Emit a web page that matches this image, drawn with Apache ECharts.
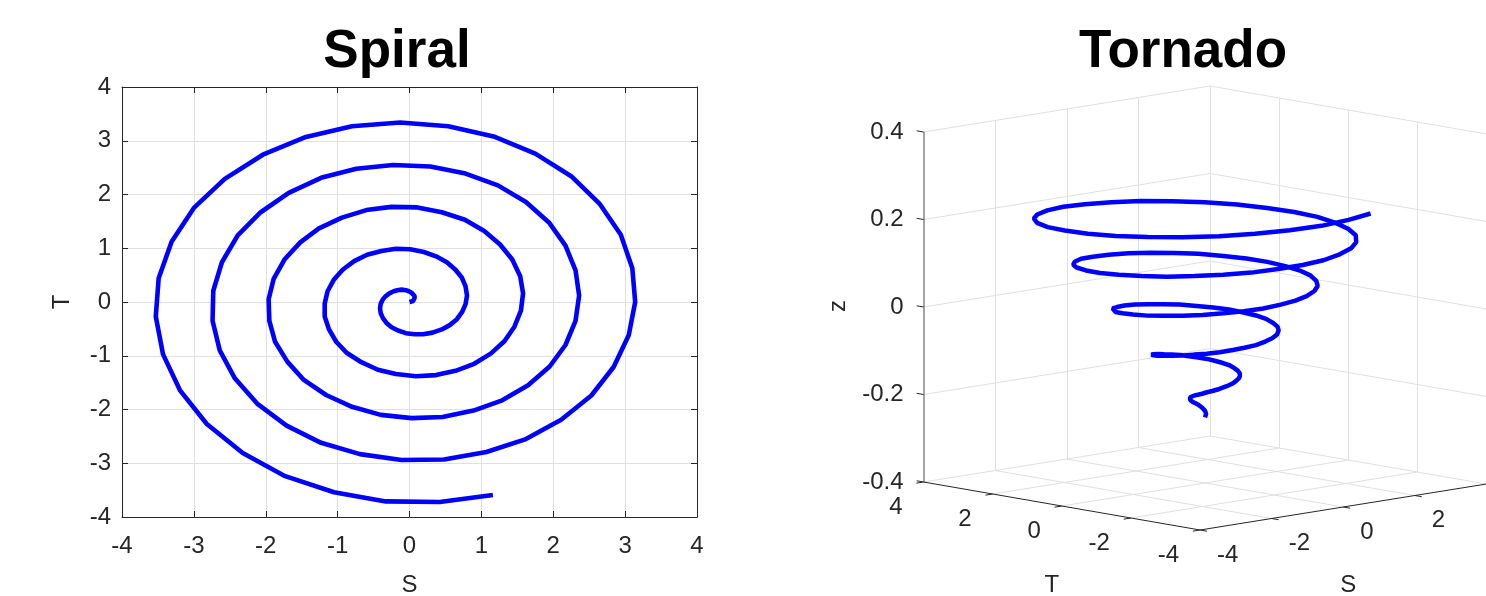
<!DOCTYPE html>
<html>
<head>
<meta charset="utf-8">
<title>Spiral / Tornado</title>
<script src="https://cdn.jsdelivr.net/npm/echarts@6/dist/echarts.min.js"></script>
<style>
  html, body { margin: 0; padding: 0; background: #fff; }
  #chart { width: 1486px; height: 596px; }
</style>
</head>
<body>
<div id="chart"></div>
<script>
// spiral samples (S, T), plus height z for the tornado
const S = [
  0, 0.02, 0.05, 0.06, 0.07, 0.07, 0.05, 0.03, -0.01, -0.05,
  -0.11, -0.17, -0.22, -0.28, -0.33, -0.37, -0.40, -0.41, -0.40, -0.37,
  -0.32, -0.25, -0.16, -0.05, 0.07, 0.19, 0.32, 0.45, 0.56, 0.66,
  0.73, 0.78, 0.80, 0.78, 0.73, 0.64, 0.52, 0.37, 0.20, 0.01,
  -0.19, -0.39, -0.59, -0.77, -0.93, -1.05, -1.14, -1.18, -1.18, -1.12,
  -1.02, -0.87, -0.67, -0.44, -0.19, 0.09, 0.37, 0.64, 0.90, 1.13,
  1.32, 1.46, 1.55, 1.58, 1.54, 1.43, 1.26, 1.04, 0.77, 0.45,
  0.11, -0.25, -0.60, -0.94, -1.26, -1.52, -1.74, -1.89, -1.96, -1.95,
  -1.87, -1.70, -1.47, -1.16, -0.80, -0.40, 0.03, 0.46, 0.89, 1.29,
  1.65, 1.95, 2.17, 2.31, 2.36, 2.31, 2.17, 1.94, 1.62, 1.23,
  0.78, 0.29, -0.23, -0.74, -1.23, -1.68, -2.07, -2.39, -2.61, -2.73,
  -2.74, -2.64, -2.43, -2.12, -1.71, -1.23, -0.69, -0.11, 0.48, 1.07,
  1.62, 2.11, 2.53, 2.84, 3.05, 3.14, 3.10, 2.94, 2.65, 2.25,
  1.75, 1.17, 0.54, -0.13, -0.80, -1.44, -2.04, -2.57, -3.00, -3.31,
  -3.49, -3.53, -3.43, -3.19, -2.82, -2.32, -1.73, -1.05, -0.33, 0.42,
  1.16
];
const T = [
  0, 0.01, 0.02, 0.04, 0.07, 0.11, 0.14, 0.17, 0.20, 0.22,
  0.23, 0.22, 0.20, 0.16, 0.11, 0.05, -0.03, -0.12, -0.21, -0.30,
  -0.39, -0.47, -0.53, -0.58, -0.60, -0.60, -0.57, -0.51, -0.43, -0.32,
  -0.19, -0.04, 0.12, 0.29, 0.45, 0.60, 0.74, 0.85, 0.93, 0.98,
  0.99, 0.95, 0.88, 0.76, 0.60, 0.42, 0.20, -0.03, -0.27, -0.51,
  -0.74, -0.95, -1.12, -1.26, -1.34, -1.38, -1.36, -1.28, -1.15, -0.96,
  -0.73, -0.46, -0.16, 0.16, 0.48, 0.79, 1.07, 1.32, 1.53, 1.67,
  1.76, 1.77, 1.71, 1.57, 1.37, 1.11, 0.79, 0.43, 0.05, -0.35,
  -0.74, -1.11, -1.45, -1.73, -1.95, -2.10, -2.16, -2.14, -2.02, -1.83,
  -1.55, -1.20, -0.80, -0.35, 0.12, 0.59, 1.05, 1.48, 1.86, 2.17,
  2.39, 2.52, 2.55, 2.48, 2.31, 2.03, 1.67, 1.24, 0.74, 0.21,
  -0.35, -0.90, -1.42, -1.89, -2.30, -2.62, -2.83, -2.94, -2.93, -2.79,
  -2.55, -2.19, -1.74, -1.21, -0.62, 0.00, 0.63, 1.25, 1.82, 2.34,
  2.76, 3.08, 3.27, 3.34, 3.27, 3.07, 2.74, 2.29, 1.75, 1.12,
  0.44, -0.27, -0.97, -1.65, -2.27, -2.81, -3.24, -3.54, -3.71, -3.72,
  -3.59
];
const Z = [
  -0.250, -0.247, -0.243, -0.240, -0.237, -0.233, -0.230, -0.227, -0.223, -0.220,
  -0.217, -0.213, -0.210, -0.207, -0.203, -0.200, -0.197, -0.193, -0.190, -0.187,
  -0.183, -0.180, -0.177, -0.173, -0.170, -0.167, -0.163, -0.160, -0.157, -0.153,
  -0.150, -0.147, -0.143, -0.140, -0.137, -0.133, -0.130, -0.127, -0.123, -0.120,
  -0.117, -0.113, -0.110, -0.107, -0.103, -0.100, -0.097, -0.093, -0.090, -0.087,
  -0.083, -0.080, -0.077, -0.073, -0.070, -0.067, -0.063, -0.060, -0.057, -0.053,
  -0.050, -0.047, -0.043, -0.040, -0.037, -0.033, -0.030, -0.027, -0.023, -0.020,
  -0.017, -0.013, -0.010, -0.007, -0.003, 0.000, 0.003, 0.007, 0.010, 0.013,
  0.017, 0.020, 0.023, 0.027, 0.030, 0.033, 0.037, 0.040, 0.043, 0.047,
  0.050, 0.053, 0.057, 0.060, 0.063, 0.067, 0.070, 0.073, 0.077, 0.080,
  0.083, 0.087, 0.090, 0.093, 0.097, 0.100, 0.103, 0.107, 0.110, 0.113,
  0.117, 0.120, 0.123, 0.127, 0.130, 0.133, 0.137, 0.140, 0.143, 0.147,
  0.150, 0.153, 0.157, 0.160, 0.163, 0.167, 0.170, 0.173, 0.177, 0.180,
  0.183, 0.187, 0.190, 0.193, 0.197, 0.200, 0.203, 0.207, 0.210, 0.213,
  0.217, 0.220, 0.223, 0.227, 0.230, 0.233, 0.237, 0.240, 0.243, 0.247,
  0.250
];

// tornado box ticks
const sTicks = [-4, -2, 0, 2, 4];
const tTicks = [4, 2, 0, -2, -4];
const zTicks = [-0.4, -0.2, 0, 0.2, 0.4];

const AXIS = '#262626';
const GRID = '#e0e0e0';
const BLUE = '#0000ff';
const FONT = "'Liberation Sans', Arial, sans-serif";

// 3-D view: screen pixels per data unit along S, T and z (u to the right, v up)
const view = { su: 35.8, sv: 5.75, tu: -34.56, tv: 6.0, zv: 437.5 };
function proj(s, t, z) {
  return [view.su * s + view.tu * t, view.sv * s + view.tv * t + view.zv * z];
}
function seg(a, b) {
  return { coords: [proj(a[0], a[1], a[2]), proj(b[0], b[1], b[2])] };
}

const zLo = zTicks[0], zHi = zTicks[zTicks.length - 1];

// back walls + floor grid
const gridSegs = [];
[-2, 0, 2, 4].forEach(s => gridSegs.push(seg([s, 4, zLo], [s, 4, zHi])));
[-4, -2, 0, 2].forEach(t => gridSegs.push(seg([4, t, zLo], [4, t, zHi])));
zTicks.forEach(z => {
  gridSegs.push(seg([-4, 4, z], [4, 4, z]));
  gridSegs.push(seg([4, -4, z], [4, 4, z]));
});
[-2, 0, 2].forEach(v => {
  gridSegs.push(seg([v, -4, zLo], [v, 4, zLo]));
  gridSegs.push(seg([-4, v, zLo], [4, v, zLo]));
});

// axis lines and ticks
const darkSegs = [seg([-4, -4, zLo], [-4, 4, zLo]), seg([-4, -4, zLo], [4, -4, zLo])];
tTicks.forEach(t => darkSegs.push(seg([-4, t, zLo], [-4.2, t, zLo])));
sTicks.forEach(s => darkSegs.push(seg([s, -4, zLo], [s, -4.2, zLo])));
zTicks.forEach(z => darkSegs.push(seg([-4, 4, z], [-4, 4.2, z])));
const zAxisSeg = [seg([-4, 4, zLo], [-4, 4, zHi])];

function segSeries(data, color, width) {
  return {
    type: 'lines', coordinateSystem: 'cartesian2d', xAxisIndex: 2, yAxisIndex: 2,
    silent: true, data: data, lineStyle: { color: color, width: width, opacity: 1 }
  };
}
function textSeries(items, label) {
  return {
    type: 'scatter', xAxisIndex: 2, yAxisIndex: 2, symbolSize: 0, silent: true,
    itemStyle: { opacity: 1 },
    data: items,
    label: Object.assign({ show: true, formatter: '{b}', color: AXIS, fontSize: 24, fontFamily: FONT, distance: 0 }, label)
  };
}

const spiralData = S.map((s, i) => [s, T[i]]);
const tornadoData = S.map((s, i) => proj(s, T[i], Z[i]));

const axisBase = {
  type: 'value', min: -4, max: 4, interval: 1, gridIndex: 0,
  axisLine: { show: true, onZero: false, lineStyle: { color: AXIS, width: 1 } },
  axisTick: { show: true, inside: true, length: 6, lineStyle: { color: AXIS } },
  splitLine: { show: false },
  axisLabel: { show: false }
};
const labelStyle = { color: AXIS, fontSize: 24, fontFamily: FONT };

const chart = echarts.init(document.getElementById('chart'));
chart.setOption({
  animation: false,
  backgroundColor: '#fff',
  title: [
    { text: 'Spiral', left: 392, top: 21, textAlign: 'center',
      textStyle: { fontSize: 53, fontWeight: 'bold', color: '#000', fontFamily: FONT } },
    { text: 'Tornado', left: 1178, top: 21, textAlign: 'center',
      textStyle: { fontSize: 53, fontWeight: 'bold', color: '#000', fontFamily: FONT } }
  ],
  grid: [
    { left: 122, right: 789, top: 87, bottom: 79, outerBoundsMode: 'none' },
    { left: 760, right: 0, top: 0, bottom: 0, outerBoundsMode: 'none' }
  ],
  xAxis: [
    Object.assign({}, axisBase, {
      position: 'bottom',
      splitLine: { show: true, lineStyle: { color: GRID, width: 1 } },
      axisLabel: Object.assign({ show: true, margin: 17 }, labelStyle),
      name: 'S', nameLocation: 'middle', nameGap: 56, nameTextStyle: labelStyle
    }),
    Object.assign({}, axisBase, { position: 'top' }),
    { type: 'value', gridIndex: 1, min: -445, max: 281, show: false }
  ],
  yAxis: [
    Object.assign({}, axisBase, {
      position: 'left',
      splitLine: { show: true, lineStyle: { color: GRID, width: 1 } },
      axisLabel: Object.assign({ show: true, margin: 11 }, labelStyle),
      name: 'T', nameLocation: 'middle', nameGap: 48, nameRotate: 90, nameTextStyle: labelStyle
    }),
    Object.assign({}, axisBase, { position: 'right' }),
    { type: 'value', gridIndex: 1, min: -288, max: 308, show: false }
  ],
  series: [
    {
      type: 'line', xAxisIndex: 0, yAxisIndex: 0, data: spiralData,
      showSymbol: false, symbol: 'none', silent: true,
      lineStyle: { color: BLUE, width: 4.6 }
    },
    segSeries(gridSegs, GRID, 1),
    segSeries(zAxisSeg, '#8c8c8c', 1.6),
    segSeries(darkSegs, AXIS, 1),
    {
      type: 'line', xAxisIndex: 2, yAxisIndex: 2, data: tornadoData,
      showSymbol: false, symbol: 'none', silent: true,
      lineStyle: { color: BLUE, width: 4.5 }
    },
    textSeries(zTicks.map(z => ({ name: String(z), value: proj(-4, 4, z) })),
      { position: 'left', offset: [-20, 0] }),
    textSeries(tTicks.map(t => ({ name: String(t), value: proj(-4, t, zLo) })),
      { position: 'left', offset: [-21, 25] }),
    textSeries(sTicks.map(s => ({ name: String(s), value: proj(s, -4, zLo) })),
      { position: 'right', offset: [17, 25] }),
    // rotated label: offset is applied in the rotated frame
    textSeries([{ name: 'z', value: proj(-4, 4, 0) }],
      { position: 'inside', rotate: 90, offset: [1, -85] }),
    textSeries([{ name: 'T', value: proj(-4, 0, zLo) }],
      { position: 'inside', offset: [-10, 79] }),
    textSeries([{ name: 'S', value: proj(0, -4, zLo) }],
      { position: 'inside', offset: [5, 78] })
  ]
});
</script>
</body>
</html>
